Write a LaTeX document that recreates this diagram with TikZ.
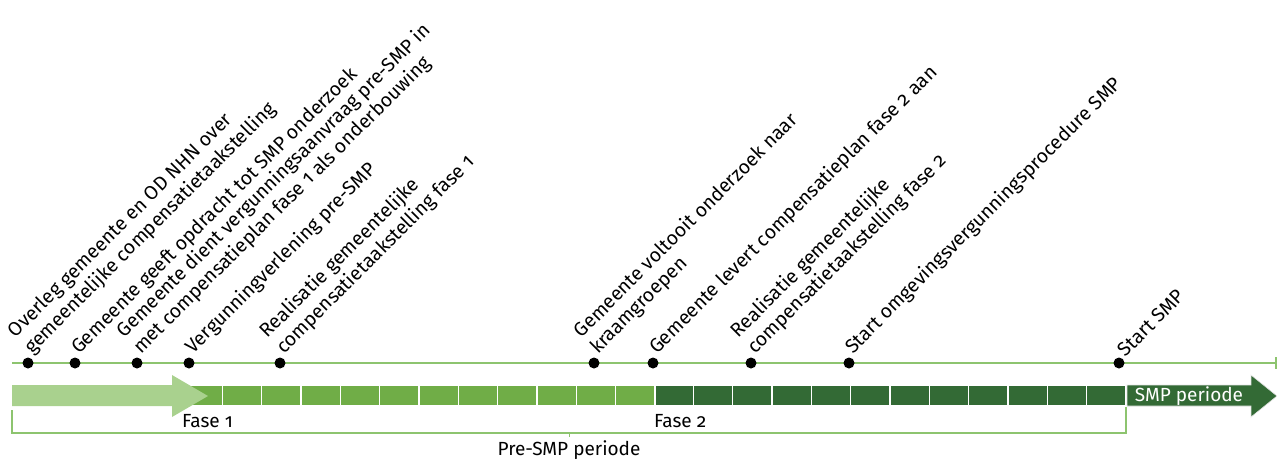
\documentclass[tikz,border=0pt]{standalone}
\usepackage{fontspec}
\setmainfont[Numbers=OldStyle]{Fira Sans}
\usepackage{tikz}
\usetikzlibrary{positioning}
\definecolor{lightgreen}{HTML}{A9D18E}
\definecolor{midgreen}{HTML}{70AD47}
\definecolor{darkgreen}{HTML}{336A35}
\definecolor{linegreen}{HTML}{8DC46F}
\tikzset{
dot/.style={fill, circle, inner sep=0pt, minimum size=11pt},
lbl/.style={rotate=45, anchor=south west, align=left, inner sep=0pt, font=\fontsize{19.5}{23}\selectfont},
seg/.style={draw=white, line width=1.5pt},
tline/.style={linegreen, line width=1.6pt},
barlabel/.style={font=\fontsize{19}{22}\selectfont, inner sep=0pt}
}

\begin{document}
\begin{tikzpicture}[x=1pt, y=-1pt]
	\useasboundingbox (0,0) rectangle (1277,459);
	\coordinate (tl-start) at (12,363);
	\coordinate (tl-end) at (1276,363);

	% time line
	\draw[tline] (tl-start) -- (tl-end);
	\draw[tline] ([yshift=6pt]tl-end) -- ([yshift=-6pt]tl-end);

	% phase blocks
	\foreach \i in {0,...,11} {
		\fill[midgreen, seg] (183+39.33*\i,385) rectangle (222.33+39.33*\i,406);
		\fill[darkgreen, seg] (654+39.33*\i,385) rectangle (693.33+39.33*\i,406);
	}
	\fill[lightgreen] (12,385) -- (172,385) -- (172,375) -- (208,396) -- (172,417) -- (172,406) -- (12,406) -- cycle;
	\filldraw[darkgreen, draw=white!80!gray, line width=0.6pt] (1127,385) -- (1251,385) -- (1251,375) -- (1277,396) -- (1251,417) -- (1251,406) -- (1127,406) -- cycle;
	\node[barlabel, text=white] (smp) at (1189,396) {SMP periode};
	\node[barlabel, anchor=west] (fase1) at (182,421) {Fase 1};
	\node[barlabel, anchor=west] (fase2) at (654,421) {Fase 2};

	% pre-SMP bracket
	\coordinate (br-a) at (12,410);
	\coordinate (br-b) at (1126,407);
	\draw[linegreen, line width=1.2pt] (br-a) |- (569,433) coordinate (br-mid) -| (br-b);
	\draw[linegreen, line width=1pt] (br-mid) -- ++(0,4);
	\node[barlabel, below=7pt of br-mid] (pre) {Pre-SMP periode};

	% milestones
	\foreach \x/\n in {28/1, 75/2, 137/3, 189/4, 280/5, 594/6, 653/7, 751/8, 849/9, 1119/10}
		\node[dot] (d\n) at (\x,363) {};

	\node[lbl] (l1) at ([shift={(7pt,5pt)}]d1) {Overleg gemeente en OD NHN over\\gemeentelijke compensatietaakstelling};
	\node[lbl] (l2) at ([shift={(7pt,5pt)}]d2) {Gemeente geeft opdracht tot SMP onderzoek};
	\node[lbl] (l3) at ([shift={(7pt,5pt)}]d3) {Gemeente dient vergunningsaanvraag pre-SMP in\\met compensatieplan fase 1 als onderbouwing};
	\node[lbl] (l4) at ([shift={(7pt,5pt)}]d4) {Vergunningverlening pre-SMP};
	\node[lbl] (l5) at ([shift={(7pt,5pt)}]d5) {Realisatie gemeentelijke\\compensatietaakstelling fase 1};
	\node[lbl] (l6) at ([shift={(7pt,5pt)}]d6) {Gemeente voltooit onderzoek naar\\kraamgroepen};
	\node[lbl] (l7) at ([shift={(7pt,5pt)}]d7) {Gemeente levert compensatieplan fase 2 aan};
	\node[lbl] (l8) at ([shift={(7pt,5pt)}]d8) {Realisatie gemeentelijke\\compensatietaakstelling fase 2};
	\node[lbl] (l9) at ([shift={(7pt,5pt)}]d9) {Start omgevingsvergunningsprocedure SMP};
	\node[lbl] (l10) at ([shift={(7pt,5pt)}]d10) {Start SMP};
\end{tikzpicture}
\end{document}
